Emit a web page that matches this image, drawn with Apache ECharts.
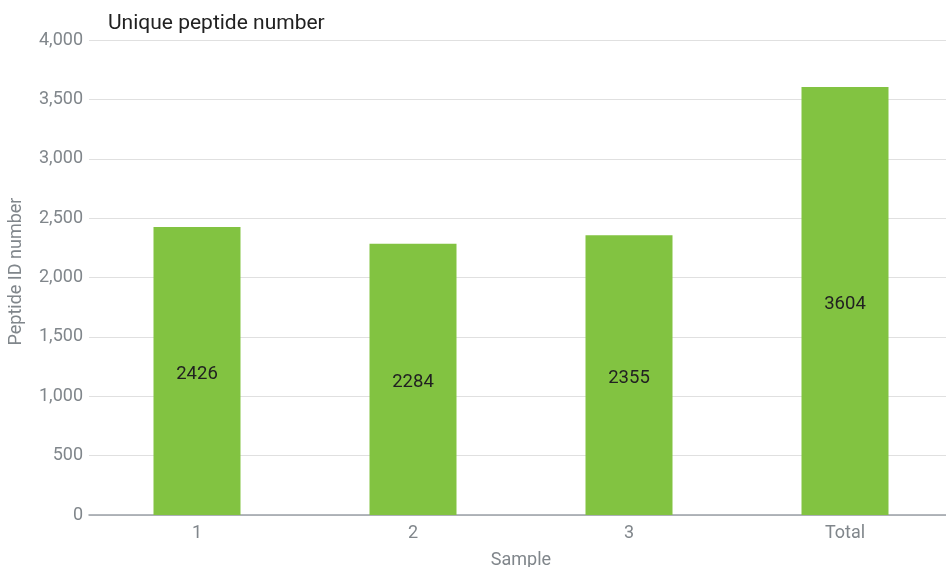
<!DOCTYPE html>
<html>
<head>
<meta charset="utf-8">
<style>
  html, body { margin: 0; padding: 0; background: #ffffff; overflow: hidden; }
  #chart { width: 946px; height: 567px; }
</style>
<script src="https://cdn.jsdelivr.net/npm/echarts@6/dist/echarts.min.js"></script>
</head>
<body>
<div id="chart"></div>
<script>
// Samples on the x axis and their unique peptide counts
const categories = ['1', '2', '3', 'Total'];
const peptideCounts = [2426, 2284, 2355, 3604];
const yTicks = { min: 0, max: 4000, interval: 500 };

const chart = echarts.init(document.getElementById('chart'), null, { renderer: 'canvas', width: 946, height: 567 });

chart.setOption({
  backgroundColor: '#ffffff',
  textStyle: { fontFamily: 'Roboto' },
  title: {
    text: 'Unique peptide number',
    left: 103,
    top: 8,
    textStyle: { fontFamily: 'Roboto', fontSize: 21, fontWeight: 'normal', color: '#212121' }
  },
  grid: {
    left: 89, top: 40, width: 864, height: 475,
    containLabel: false,
    outerBoundsMode: 'none'
  },
  xAxis: {
    type: 'category',
    data: categories,
    name: 'Sample',
    nameLocation: 'middle',
    nameGap: 36,
    nameTextStyle: { fontSize: 18, color: '#80868b' },
    axisLine: { lineStyle: { color: '#9aa0a6', width: 1.5 } },
    axisTick: { show: false },
    axisLabel: { fontSize: 18, color: '#80868b', margin: 9 },
    splitLine: { show: false }
  },
  yAxis: {
    type: 'value',
    min: yTicks.min,
    max: yTicks.max,
    interval: yTicks.interval,
    name: 'Peptide ID number',
    nameLocation: 'middle',
    nameGap: 64,
    nameTextStyle: { fontSize: 18, color: '#80868b', padding: [0, 0, 0, 12] },
    axisLine: { show: false },
    axisTick: { show: false },
    axisLabel: {
      fontSize: 18,
      color: '#80868b',
      margin: 6,
      formatter: v => v.toLocaleString('en-US')
    },
    splitLine: { lineStyle: { color: '#e0e0e0', width: 1 } }
  },
  series: [{
    type: 'bar',
    data: peptideCounts,
    barWidth: 87,
    itemStyle: { color: '#82c341' },
    label: {
      show: true,
      position: 'inside',
      offset: [0, 3],
      fontSize: 18.5,
      color: '#212121'
    }
  }]
});
</script>
</body>
</html>
